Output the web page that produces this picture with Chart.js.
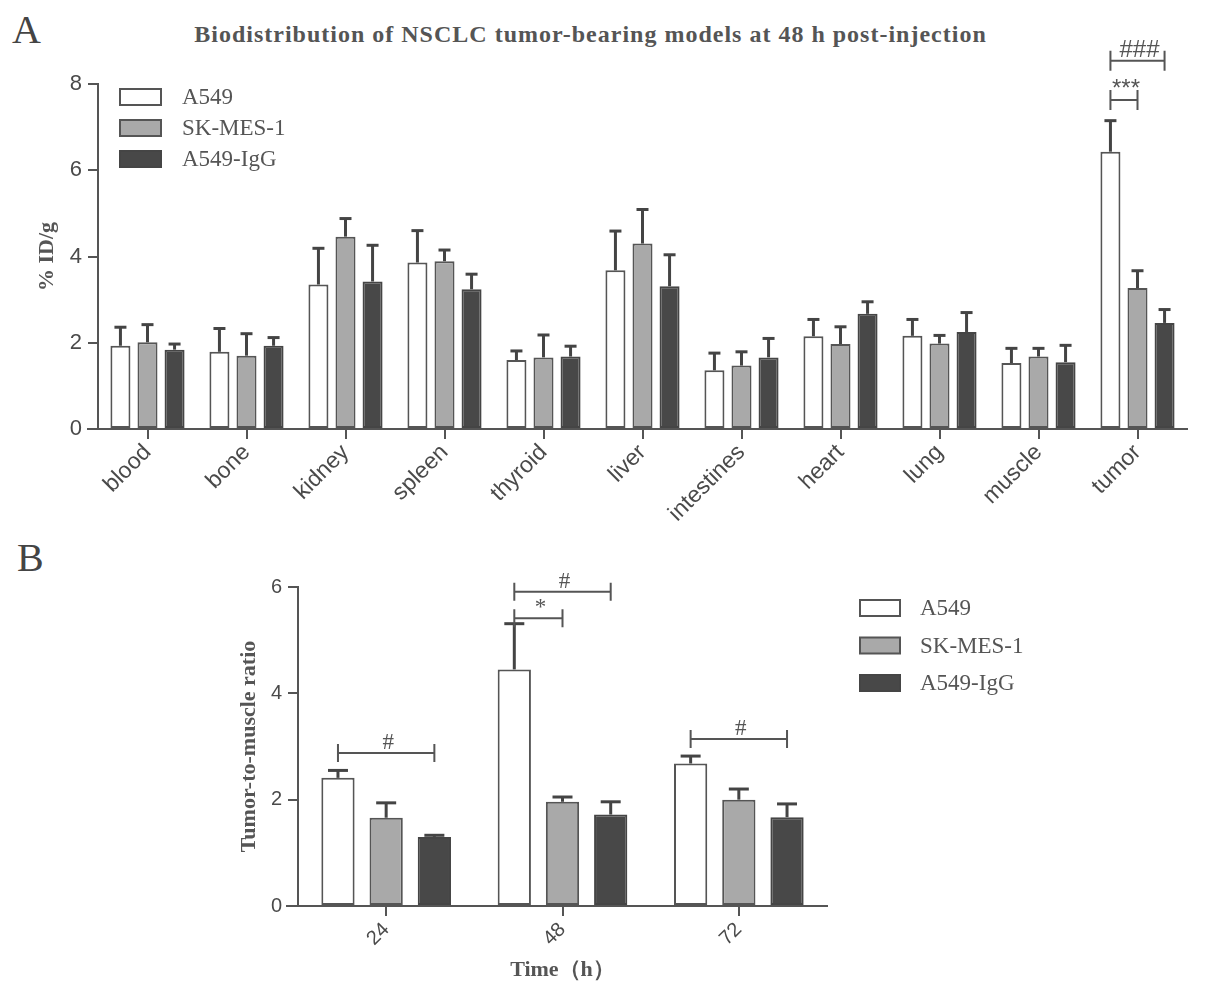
<!DOCTYPE html>
<html>
<head>
<meta charset="utf-8">
<script src="https://cdn.jsdelivr.net/npm/chart.js@4.4.1/dist/chart.umd.min.js"></script>
<style>
html,body{margin:0;padding:0;background:#fff;width:1205px;height:997px;overflow:hidden;position:relative;}
.box{position:absolute;}
.lbl{position:absolute;font-family:'Liberation Serif','Times New Roman',serif;color:#444;white-space:nowrap;}
</style>
</head>
<body>
<div class="lbl" style="left:12px;top:6px;font-size:40px;">A</div>
<div class="lbl" style="left:17px;top:534px;font-size:40px;">B</div>
<div class="lbl" style="left:0;width:1181px;text-align:center;top:21px;font-size:24px;letter-spacing:1px;font-weight:bold;color:#555;">Biodistribution of NSCLC tumor-bearing models at 48 h post-injection</div>
<div class="box" style="left:0;top:0;width:1205px;height:545px;"><canvas id="cA"></canvas></div>
<div class="box" style="left:0;top:530px;width:1205px;height:467px;"><canvas id="cB"></canvas></div>
<script>
// ---------- Panel A data ----------
const organs = ['blood','bone','kidney','spleen','thyroid','liver','intestines','heart','lung','muscle','tumor'];
const seriesNames = ['A549','SK-MES-1','A549-IgG'];
const a549 = [1.93,1.79,3.35,3.86,1.60,3.68,1.36,2.15,2.16,1.53,6.43];
const a549Err = [0.43,0.54,0.84,0.74,0.21,0.91,0.40,0.39,0.38,0.34,0.72];
const skmes = [2.01,1.70,4.46,3.89,1.66,4.30,1.47,1.97,1.98,1.68,3.27];
const skmesErr = [0.41,0.51,0.42,0.26,0.52,0.79,0.32,0.40,0.19,0.19,0.40];
const igg = [1.84,1.93,3.42,3.24,1.68,3.31,1.66,2.67,2.25,1.55,2.46];
const iggErr = [0.13,0.19,0.84,0.35,0.24,0.73,0.44,0.28,0.45,0.39,0.31];
const yTicksA = [0,2,4,6,8];
const sigA = [
  {cat:10, from:0, to:1, y:7.63, label:'***'},
  {cat:10, from:0, to:2, y:8.54, label:'###'}
];

// ---------- Panel B data ----------
const times = ['24','48','72'];
const ratioA549 = [2.41,4.45,2.68];
const ratioA549Err = [0.14,0.86,0.14];
const ratioSk = [1.66,1.96,2.00];
const ratioSkErr = [0.28,0.09,0.20];
const ratioIgg = [1.30,1.72,1.67];
const ratioIggErr = [0.03,0.24,0.25];
const yTicksB = [0,2,4,6];
const sigB = [
  {cat:0, from:0, to:2, y:2.88, label:'#'},
  {cat:1, from:0, to:1, y:5.41, label:'*'},
  {cat:1, from:0, to:2, y:5.91, label:'#'},
  {cat:2, from:0, to:2, y:3.14, label:'#'}
];

const fills = ['#ffffff','#a9a9a9','#484848'];
const strokes = ['#555555','#555555','#454545'];
const AX = '#555555';
const SANS = "'Liberation Sans', Arial, sans-serif";
const SERIF = "'Liberation Serif', 'Times New Roman', serif";

const decor = {
  id: 'decor',
  afterDatasetsDraw(chart, args, o) {
    const ctx = chart.ctx, ys = chart.scales.y, ca = chart.chartArea;
    ctx.save();
    ctx.strokeStyle = AX; ctx.lineWidth = 2;
    ctx.beginPath(); ctx.moveTo(ca.left - o.ext, ca.bottom); ctx.lineTo(ca.left, ca.bottom); ctx.stroke();
    chart.data.datasets.forEach((ds, di) => {
      const meta = chart.getDatasetMeta(di);
      meta.data.forEach((bar, i) => {
        const top = ys.getPixelForValue(ds.data[i] + o.errors[di][i]);
        ctx.strokeStyle = '#444'; ctx.lineWidth = 3;
        ctx.beginPath(); ctx.moveTo(bar.x, bar.y); ctx.lineTo(bar.x, top); ctx.stroke();
        ctx.beginPath(); ctx.moveTo(bar.x - o.cap, top); ctx.lineTo(bar.x + o.cap, top); ctx.stroke();
      });
    });
    ctx.strokeStyle = AX; ctx.lineWidth = 2; ctx.fillStyle = '#555';
    ctx.textAlign = 'center'; ctx.textBaseline = 'alphabetic';
    o.sig.forEach(s => {
      const x1 = chart.getDatasetMeta(s.from).data[s.cat].x;
      const x2 = chart.getDatasetMeta(s.to).data[s.cat].x;
      const y = ys.getPixelForValue(s.y);
      ctx.beginPath();
      ctx.moveTo(x1, y); ctx.lineTo(x2, y);
      ctx.moveTo(x1, y - o.endH); ctx.lineTo(x1, y + o.endH);
      ctx.moveTo(x2, y - o.endH); ctx.lineTo(x2, y + o.endH);
      ctx.stroke();
      ctx.font = o.sigFont;
      ctx.fillText(s.label, (x1 + x2) / 2 + 2, y - 4);
    });
    const L = o.legend;
    chart.data.datasets.forEach((ds, di) => {
      const y = L.y + di * L.gap;
      ctx.fillStyle = ds.backgroundColor; ctx.strokeStyle = ds.borderColor; ctx.lineWidth = 2;
      ctx.beginPath(); ctx.rect(L.x, y, L.w, L.h); ctx.fill(); ctx.stroke();
      ctx.fillStyle = '#555'; ctx.font = L.font; ctx.textAlign = 'left'; ctx.textBaseline = 'middle';
      ctx.fillText(ds.label, L.textX, y + L.h / 2 + 1);
    });
    ctx.restore();
  }
};

function makeDatasets(vals, cp, bp) {
  return vals.map((v, i) => ({
    label: seriesNames[i], data: v,
    backgroundColor: fills[i], borderColor: strokes[i], borderWidth: 2,
    borderSkipped: false, categoryPercentage: cp, barPercentage: bp
  }));
}

function axisCommon(size) {
  return {
    grid: {drawOnChartArea: false, drawTicks: true, tickLength: 10, color: AX, lineWidth: 2, offset: false},
    border: {display: true, color: AX, width: 2},
    ticks: {color: '#4a4a4a', font: {family: SANS, size: size}}
  };
}

// ---------- Chart A ----------
const xA = axisCommon(23);
xA.ticks.minRotation = 45; xA.ticks.maxRotation = 45; xA.ticks.autoSkip = false; xA.ticks.padding = 0;
xA.afterFit = s => { s.height = 116; };
const yA = axisCommon(22);
yA.min = 0; yA.max = 8;
yA.afterBuildTicks = s => { s.ticks = yTicksA.map(v => ({value: v})); };
yA.ticks.padding = 6;
yA.title = {display: true, text: '% ID/g', color: '#555', font: {family: SERIF, weight: 'bold', size: 22}, padding: {top: 0, bottom: 0}};
yA.afterFit = s => { s.width = 64; };

new Chart(document.getElementById('cA'), {
  type: 'bar',
  data: {labels: organs, datasets: makeDatasets([a549, skmes, igg], 0.82, 0.74)},
  options: {
    responsive: true, maintainAspectRatio: false, animation: false, devicePixelRatio: 1,
    layout: {padding: {left: 34, top: 84, right: 18, bottom: 0}},
    plugins: {
      legend: {display: false}, tooltip: {enabled: false},
      decor: {errors: [a549Err, skmesErr, iggErr], cap: 6, sig: sigA, endH: 10, ext: 11,
              sigFont: "24px " + SANS,
              legend: {x: 120, y: 89, w: 41, h: 16, gap: 31, textX: 182, font: "23px " + SERIF}}
    },
    scales: {x: xA, y: yA}
  },
  plugins: [decor]
});

// ---------- Chart B ----------
const xB = axisCommon(20);
xB.ticks.minRotation = 45; xB.ticks.maxRotation = 45; xB.ticks.padding = 2;
xB.title = {display: true, text: 'Time（h）', color: '#555', font: {family: SERIF, weight: 'bold', size: 22}, padding: {top: 0, bottom: 13}};
xB.afterFit = s => { s.height = 91; };
const yB = axisCommon(20);
yB.min = 0; yB.max = 6;
yB.afterBuildTicks = s => { s.ticks = yTicksB.map(v => ({value: v})); };
yB.ticks.padding = 6;
yB.title = {display: true, text: 'Tumor-to-muscle ratio', color: '#555', font: {family: SERIF, weight: 'bold', size: 22}, padding: {top: 0, bottom: 0}};
yB.afterFit = s => { s.width = 62; };

new Chart(document.getElementById('cB'), {
  type: 'bar',
  data: {labels: times, datasets: makeDatasets([ratioA549, ratioSk, ratioIgg], 0.82, 0.69)},
  options: {
    responsive: true, maintainAspectRatio: false, animation: false, devicePixelRatio: 1,
    layout: {padding: {left: 236, top: 57, right: 378, bottom: 0}},
    plugins: {
      legend: {display: false}, tooltip: {enabled: false},
      decor: {errors: [ratioA549Err, ratioSkErr, ratioIggErr], cap: 10, sig: sigB, endH: 9, ext: 12,
              sigFont: "23px " + SERIF,
              legend: {x: 860, y: 70, w: 40, h: 16, gap: 37.5, textX: 920, font: "23px " + SERIF}}
    },
    scales: {x: xB, y: yB}
  },
  plugins: [decor]
});
</script>
</body>
</html>
